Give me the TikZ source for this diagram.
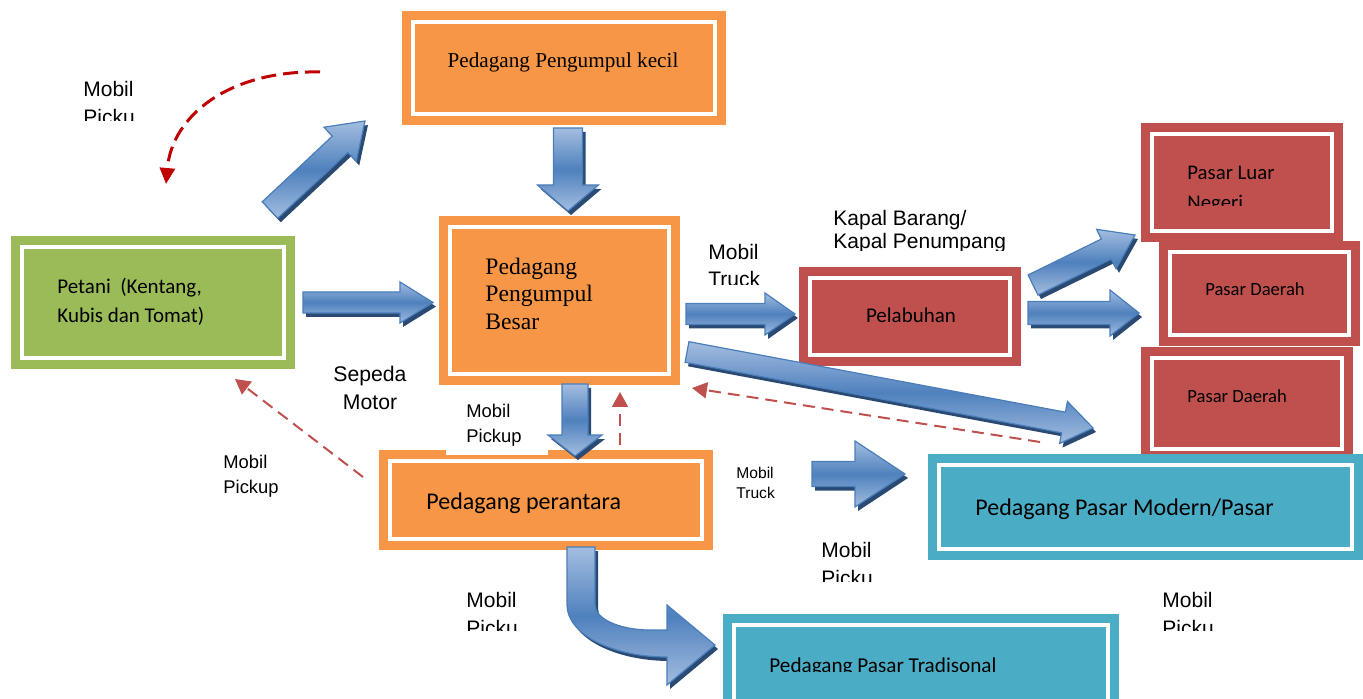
\documentclass[tikz,border=0pt]{standalone}
\usepackage{fontspec}
\setmainfont{Liberation Serif}
\newfontfamily\calibri{Carlito}
\newfontfamily\arial{Liberation Sans}
\usetikzlibrary{calc,arrows.meta}
\definecolor{boxorange}{HTML}{F79646}
\definecolor{boxgreen}{HTML}{9BBB59}
\definecolor{boxred}{HTML}{C0504D}
\definecolor{boxcyan}{HTML}{4BACC6}
\definecolor{flowlight}{HTML}{A3BDE0}
\definecolor{flowmid}{HTML}{4F81BD}
\definecolor{flowedge}{HTML}{4A7EBB}
\definecolor{flowshade}{HTML}{2A4A74}
\definecolor{backred}{HTML}{C0504D}
\definecolor{darkred}{HTML}{C00000}

\tikzset{
  panel/.style={draw=#1, fill=#1, double=white, double distance=2pt,
    line width=4.5pt, inner sep=0pt, outer sep=0pt},
  romantext/.style 2 args={font=\fontsize{#1}{#2}\selectfont, inner sep=0pt, align=left},
  calitext/.style 2 args={font=\calibri\fontsize{#1}{#2}\selectfont, inner sep=0pt, align=left},
  arialtext/.style 2 args={font=\arial\fontsize{#1}{#2}\selectfont, inner sep=0pt, align=left},
  flowbody/.style={draw=flowedge, line width=0.6pt, top color=flowlight,
    bottom color=flowlight, middle color=flowmid,
    preaction={fill=flowshade, transform canvas={shift={(1.5pt,-2pt)}}}},
  backflow/.style={draw=backred, line width=1pt, dash pattern=on 6pt off 3.5pt,
    -{Triangle[length=7.5pt,width=8pt]}},
}

% block arrow: from, to, shaft half width, head half width, head length
\newcommand\flowarrow[5]{%
  \path[flowbody] let \p1=#1, \p2=#2,
      \n1={atan2(\y2-\y1,\x2-\x1)}, \n2={veclen(\x2-\x1,\y2-\y1)} in
    ($(\p1)+(\n1+90:#3)$) -- ++(\n1:\n2-#5) -- ++(\n1+90:#4-#3) -- (\p2)
    -- ($(\p2)+(\n1+180:#5)+(\n1-90:#4)$) -- ++(\n1+90:#4-#3)
    -- ($(\p1)+(\n1-90:#3)$) -- cycle;
}

\begin{document}
\begin{tikzpicture}[x=0.5pt, y=-0.5pt]
  \useasboundingbox (0,0) rectangle (1363,699);
  \clip (0,0) rectangle (1363,699);

  % boxes
  \node[panel=boxorange, minimum width=151pt, minimum height=46pt] (kecil) at (564,68) {};
  \node[panel=boxorange, minimum width=109.5pt, minimum height=73.5pt] (besar) at (559.5,300.5) {};
  \node[panel=boxgreen, minimum width=131pt, minimum height=55.5pt] (petani) at (153,302.5) {};
  \node[panel=boxorange, minimum width=156pt, minimum height=39pt] (perantara) at (546,500) {};
  \node[panel=boxred, minimum width=100pt, minimum height=38.5pt] (pelabuhan) at (910,316.5) {};
  \node[panel=boxred, minimum width=90pt, minimum height=48.5pt] (luar) at (1242,182.5) {};
  \node[panel=boxred, minimum width=89.5pt, minimum height=41.5pt] (daerah1) at (1259.5,294) {};
  \node[panel=boxred, minimum width=95pt, minimum height=45.5pt] (daerah2) at (1247,403.5) {};
  \node[panel=boxcyan, minimum width=206.5pt, minimum height=42pt] (modern) at (1145.5,507) {};
  \node[panel=boxcyan, minimum width=187pt, minimum height=47.5pt] (tradisional) at (921,672.5) {};

  % box texts (multi-line nodes sit on the baseline of their last line)
  \node[romantext={10.6pt}{12pt}, anchor=base] (kecil-t) at (563,67.5) {Pedagang Pengumpul kecil};
  \node[romantext={11.8pt}{13.75pt}, anchor=base west] (besar-t) at (485,329.5) {Pedagang\\Pengumpul\\Besar};
  \node[calitext={10.5pt}{14.3pt}, anchor=base west] (petani-t) at (57,322.6) {Petani\ \ (Kentang,\\Kubis dan Tomat)};
  \node[calitext={12pt}{14pt}, anchor=base west] (perantara-t) at (426,509) {Pedagang perantara};
  \node[calitext={10.5pt}{13pt}, anchor=base] (pelabuhan-t) at (911,323) {Pelabuhan};
  \begin{scope}
    \clip (1150,150) rectangle (1335,206);
    \node[calitext={10.4pt}{15pt}, anchor=base west] (luar-t) at (1187,210) {Pasar Luar\\Negeri};
  \end{scope}
  \node[calitext={9.3pt}{11pt}, anchor=base] (daerah1-t) at (1255,296) {Pasar Daerah};
  \node[calitext={9.3pt}{11pt}, anchor=base west] (daerah2-t) at (1187,402) {Pasar Daerah};
  \node[calitext={12pt}{14pt}, anchor=base west] (modern-t) at (975,515) {Pedagang Pasar Modern/Pasar};
  \begin{scope}
    \clip (740,640) rectangle (1100,671.5);
    \node[calitext={10.6pt}{13pt}, anchor=base west] (tradisional-t) at (769,672.5) {Pedagang Pasar Tradisonal};
  \end{scope}

  % transport labels
  \begin{scope}
    \clip (70,70) rectangle (200,120.7);
    \node[arialtext={10.5pt}{14pt}, anchor=base west] (lbl-pick1) at (83,125) {Mobil\\Picku};
  \end{scope}
  \node[arialtext={10.6pt}{14pt}, align=center, anchor=base] (lbl-motor) at (370,409.7) {Sepeda\\Motor};
  \node[arialtext={9.2pt}{12.5pt}, anchor=base west] (lbl-pick2) at (223,493) {Mobil\\Pickup};
  \node[arialtext={9.2pt}{12.5pt}, fill=white, anchor=south west, inner xsep=10pt,
    inner ysep=4pt, text width=31pt] (lbl-pick3) at (446,455) {Mobil\\Pickup};
  \begin{scope}
    \clip (700,240) rectangle (790,285);
    \node[arialtext={10.5pt}{13.5pt}, anchor=base west] (lbl-truck1) at (708,287) {Mobil\\Truck};
  \end{scope}
  \begin{scope}
    \clip (820,200) rectangle (1030,250.5);
    \node[arialtext={10.5pt}{11.2pt}, anchor=base west] (lbl-kapal) at (833,248.4) {Kapal Barang/\\Kapal Penumpang};
  \end{scope}
  \node[arialtext={7.8pt}{10pt}, anchor=base west] (lbl-truck2) at (736,498) {Mobil\\Truck};
  \begin{scope}
    \clip (810,530) rectangle (900,581.5);
    \node[arialtext={10.5pt}{14pt}, anchor=base west] (lbl-pick4) at (821,585) {Mobil\\Picku};
  \end{scope}
  \begin{scope}
    \clip (455,580) rectangle (540,630.5);
    \node[arialtext={10.5pt}{14pt}, anchor=base west] (lbl-pick5) at (466,635) {Mobil\\Picku};
  \end{scope}
  \begin{scope}
    \clip (1150,580) rectangle (1240,630);
    \node[arialtext={10.5pt}{14pt}, anchor=base west] (lbl-pick6) at (1162,635) {Mobil\\Picku};
  \end{scope}

  % block arrows
  \flowarrow{($(petani.north east)+(-14,-37)$)}{($(kecil.south west)+(-48,7)$)}{5.65pt}{11.75pt}{17pt}
  \flowarrow{($(kecil.south)+(4,14)$)}{($(besar.north)+(8.5,-16)$)}{7.25pt}{15.25pt}{13pt}
  \flowarrow{($(petani.east)+(19,0)$)}{($(besar.west)+(-17,2)$)}{5.25pt}{10.25pt}{16.5pt}
  \flowarrow{($(besar.east)+(17,13.5)$)}{($(pelabuhan.west)+(-15,-2.5)$)}{5.25pt}{10.5pt}{15pt}
  \flowarrow{($(pelabuhan.east)+(18,-3.5)$)}{($(daerah1.west)+(-31,19)$)}{5.75pt}{11.5pt}{14.5pt}
  \flowarrow{($(pelabuhan.north east)+(23,7)$)}{($(luar.south west)+(-17,4)$)}{5.6pt}{11pt}{16pt}
  \flowarrow{($(besar.east)+(18,51.5)$)}{($(daerah2.west)+(-59,24.5)$)}{5.25pt}{10.7pt}{15pt}
  \flowarrow{($(besar.south)+(15.5,10)$)}{($(perantara.north)+(29,-5)$)}{6.5pt}{13.5pt}{10.5pt}
  \flowarrow{($(perantara.east)+(110,-26)$)}{($(modern.west)+(-34,-33)$)}{6.25pt}{16.5pt}{25pt}

  % bent arrow down to the traditional market
  \coordinate (bend-a) at ($(perantara.south)+(35,8)$);
  \coordinate (bend-b) at ($(tradisional.west)+(-19,-27.5)$);
  \path[flowbody] ($(bend-a)+(-14,0)$) -- ($(bend-a)+(-14,58)$)
    .. controls ($(bend-a)+(-14,87)$) and ($(bend-b)+(-103,12)$) .. ($(bend-b)+(-48,12)$)
    -- ($(bend-b)+(-48,40)$) -- (bend-b) -- ($(bend-b)+(-48,-40)$) -- ($(bend-b)+(-48,-15)$)
    -- ($(bend-b)+(-65,-15)$)
    .. controls ($(bend-b)+(-95.4,-15)$) and ($(bend-a)+(14,71.8)$) .. ($(bend-a)+(14,58)$)
    -- ($(bend-a)+(14,0)$) -- cycle;

  % dashed return flows
  \draw[backflow] ($(perantara.west)+(-27,-23)$) -- ($(petani.south east)+(-49,21)$);
  \draw[backflow] ($(perantara.north)+(74,-16)$) -- ($(besar.south)+(60.5,18)$);
  \draw[backflow] ($(daerah2.west)+(-112,38.5)$) -- ($(besar.south east)+(23,14)$);
  \draw[backflow, draw=darkred, line width=1.5pt, dash pattern=on 7.5pt off 3.5pt,
    -{Triangle[length=8pt,width=7.5pt]}]
    ($(kecil.west)+(-93,4)$) .. controls ($(kecil.west)+(-183,2)$) and ($(petani.north)+(19,-132)$) .. ($(petani.north)+(13,-63)$);
\end{tikzpicture}
\end{document}
